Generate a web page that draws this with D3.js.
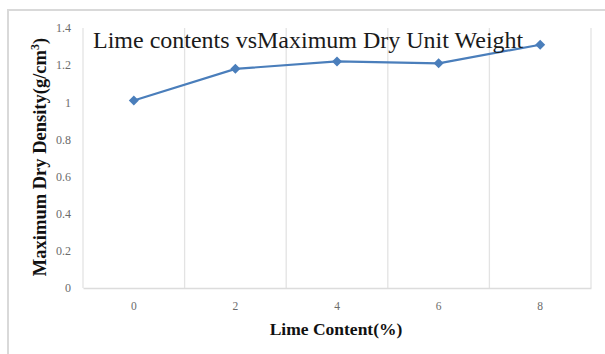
<!DOCTYPE html>
<html><head><meta charset="utf-8">
<script src="https://cdn.jsdelivr.net/npm/d3@7"></script>
<style>body{margin:0;background:#fff}svg{display:block}</style>
</head><body>
<svg id="c" width="605" height="354"></svg>
<script>
const categories = ["0","2","4","6","8"];
const values = [1.01, 1.18, 1.22, 1.21, 1.31];
const yTicks = [0,0.2,0.4,0.6,0.8,1,1.2,1.4];
const title = "Lime contents vsMaximum Dry Unit Weight";
const xTitle = "Lime Content(%)";

const svg = d3.select("#c");
const m = {l:83, r:591, t:28, b:288};
// outer frame
svg.append("path").attr("d","M8,360 L8,10 L610,10").attr("fill","none").attr("stroke","#d9d9d9").attr("stroke-width",2);

const x = d3.scaleBand().domain(categories).range([m.l,m.r]);
const y = d3.scaleLinear().domain([0,1.4]).range([m.b,m.t]);

// vertical gridlines at band edges
const edges = categories.map(c=>x(c)).concat([m.r]);
svg.append("g").selectAll("line").data(edges).join("line")
  .attr("x1",d=>d).attr("x2",d=>d).attr("y1",m.t).attr("y2",m.b)
  .attr("stroke","#e3e3e3").attr("stroke-width",1.3);

// x axis
const xa = svg.append("g").attr("transform",`translate(0,${m.b})`).call(d3.axisBottom(x).tickSize(0).tickPadding(14));
xa.select(".domain").attr("stroke","#dcdcdc").attr("stroke-width",1.5);
xa.selectAll("text").attr("font-family","Liberation Serif").attr("font-size",11.5).attr("fill","#6b6b6b");

// y axis
const ya = svg.append("g").attr("transform",`translate(${m.l},0)`).call(d3.axisLeft(y).tickValues(yTicks).tickSize(0).tickPadding(12).tickFormat(d3.format("")));
ya.select(".domain").remove();
ya.selectAll("text").attr("font-family","Liberation Serif").attr("font-size",12).attr("fill","#6b6b6b");

// line
const pts = categories.map((c,i)=>[x(c)+x.bandwidth()/2, y(values[i])]);
svg.append("path").attr("d",d3.line()(pts)).attr("fill","none").attr("stroke","#4a7ebb").attr("stroke-width",2.2);
svg.append("g").selectAll("path").data(pts).join("path")
  .attr("transform",d=>`translate(${d[0]},${d[1]})`)
  .attr("d","M0,-5L5,0L0,5L-5,0Z")
  .attr("fill","#4a7ebb");

// title
const tt = svg.append("text").attr("x",93).attr("y",48).attr("font-family","Liberation Serif").attr("font-size",24)
  .attr("fill","#1a1a1a").text(title);
const w = tt.node().getComputedTextLength();
const nSp = title.split(" ").length - 1;
tt.attr("word-spacing", Math.max(0,(430 - w)/nSp));

// x title
svg.append("text").attr("x",336).attr("y",335).attr("text-anchor","middle").attr("font-family","Liberation Serif")
  .attr("font-weight","bold").attr("font-size",17.5).attr("fill","#111").text(xTitle);

// y title
const yt = svg.append("text").attr("transform","translate(46,157) rotate(-90)").attr("text-anchor","middle")
  .attr("font-family","Liberation Serif").attr("font-weight","bold").attr("font-size",18.5).attr("fill","#111");
yt.append("tspan").text("Maximum Dry Density(g/cm");
yt.append("tspan").attr("dy",-7).attr("font-size",12).text("3");
yt.append("tspan").attr("dy",7).text(")");
</script>
</body></html>
